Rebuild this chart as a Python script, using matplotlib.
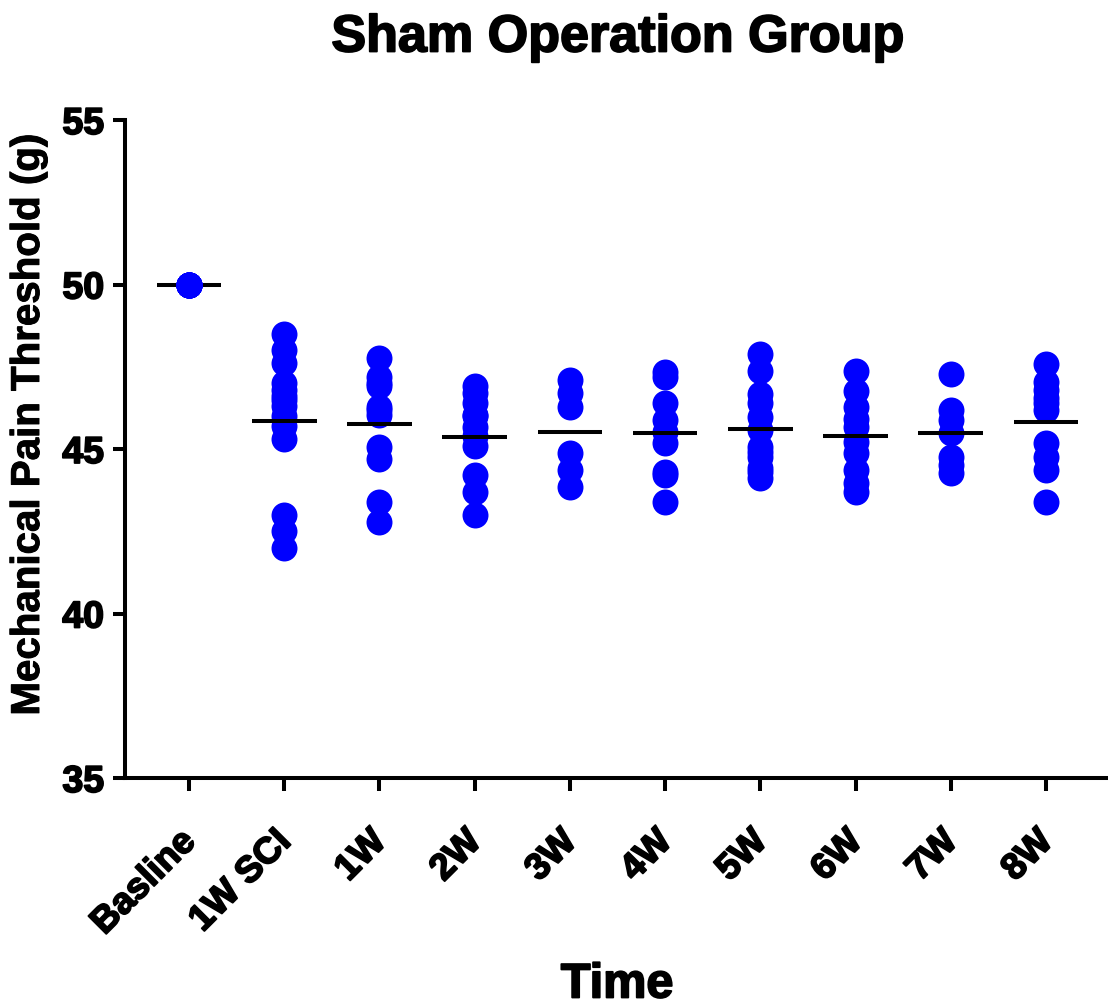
import numpy as np
import matplotlib
matplotlib.use("Agg")
import matplotlib.pyplot as plt
import matplotlib.patheffects as pe
import matplotlib.transforms as mtransforms

plt.rcParams['font.family'] = ['Liberation Sans', 'DejaVu Sans']

categories = ["Basline", "1W SCI", "1W", "2W", "3W", "4W", "5W", "6W", "7W", "8W"]

baseline = [50.0] * 10
w1_sci = [48.5, 48.0, 47.6, 47.0, 46.8, 46.6, 46.5, 46.3, 46.0, 45.7, 45.3, 43.0, 42.5, 42.0]
w1 = [47.76, 47.18, 47.0, 46.9, 46.29, 46.2, 46.03, 45.07, 44.69, 43.4, 42.79]
w2 = [46.9, 46.7, 46.39, 46.03, 46.0, 45.68, 45.38, 45.09, 44.21, 43.7, 42.99]
w3 = [47.1, 46.69, 46.29, 44.87, 44.36, 43.85]
w4 = [47.35, 47.2, 46.39, 45.88, 45.53, 45.17, 44.3, 44.21, 43.4]
w5 = [47.88, 47.38, 46.67, 46.39, 45.98, 45.58, 45.07, 44.9, 44.77, 44.41, 44.3, 44.11]
w6 = [47.38, 46.77, 46.27, 45.9, 45.68, 45.2, 44.87, 44.36, 43.96, 43.68]
w7 = [47.28, 46.19, 45.88, 45.48, 44.77, 44.5, 44.26]
w8 = [47.58, 47.05, 46.8, 46.54, 46.4, 46.19, 45.17, 44.77, 44.36, 43.38]

groups = [baseline, w1_sci, w1, w2, w3, w4, w5, w6, w7, w8]
yticks = [35, 40, 45, 50, 55]

heavy = [pe.withStroke(linewidth=1.3, foreground='black')]
medium = [pe.withStroke(linewidth=0.7, foreground='black')]

fig = plt.figure(figsize=(11.08, 10.06), dpi=100)
ax = fig.add_axes([125/1108, 1-778/1006, (1106-125)/1108, (778-120)/1006])

blue = (0, 0, 1)
for i, g in enumerate(groups):
    xs = np.full(len(g), i)
    m = np.mean(g)
    dz = 3 if i == 0 else 2
    ax.plot(xs, g, 'o', color=blue, markersize=18.7, markeredgewidth=0, zorder=dz, clip_on=False)
    ax.hlines(m, i - 0.34, i + 0.34, color='black', linewidth=2.9, zorder=2 if i == 0 else 4)

ax.set_xlim(-0.672, 9.63)
ax.set_ylim(35, 55)
ax.set_yticks(yticks)
ax.set_yticklabels([str(t) for t in yticks], fontsize=27, fontweight='bold')
for lab in ax.get_yticklabels():
    lab.set_path_effects(heavy)

ax.set_xticks(range(len(categories)))
ax.set_xticklabels([])
base = mtransforms.blended_transform_factory(ax.transData, ax.transAxes)
offset = mtransforms.ScaledTranslation(-11/100, -46/100, fig.dpi_scale_trans)
for i, c in enumerate(categories):
    ax.text(i, 0, c, transform=base + offset, fontsize=26.5, fontweight='bold',
            rotation=45, ha='right', va='top', rotation_mode='anchor',
            path_effects=heavy, clip_on=False)

for s in ['top', 'right']:
    ax.spines[s].set_visible(False)
for s in ['left', 'bottom']:
    ax.spines[s].set_linewidth(2.9)
ax.tick_params(axis='y', length=9, width=2.9, pad=6)
ax.tick_params(axis='x', length=9, width=2.9)

fig.text(28/1108, 1-425/1006, "Mechanical Pain Threshold (g)", fontsize=29, fontweight='bold',
         rotation=90, ha='center', va='center', path_effects=medium)
fig.text(617/1108, 1-985/1006, "Time", fontsize=35, fontweight='bold',
         ha='center', va='center', path_effects=heavy)
fig.text(618/1108, 1-38/1006, "Sham Operation Group", fontsize=37.5, fontweight='bold',
         ha='center', va='center', path_effects=heavy)

fig.savefig("out.png", dpi=100)
